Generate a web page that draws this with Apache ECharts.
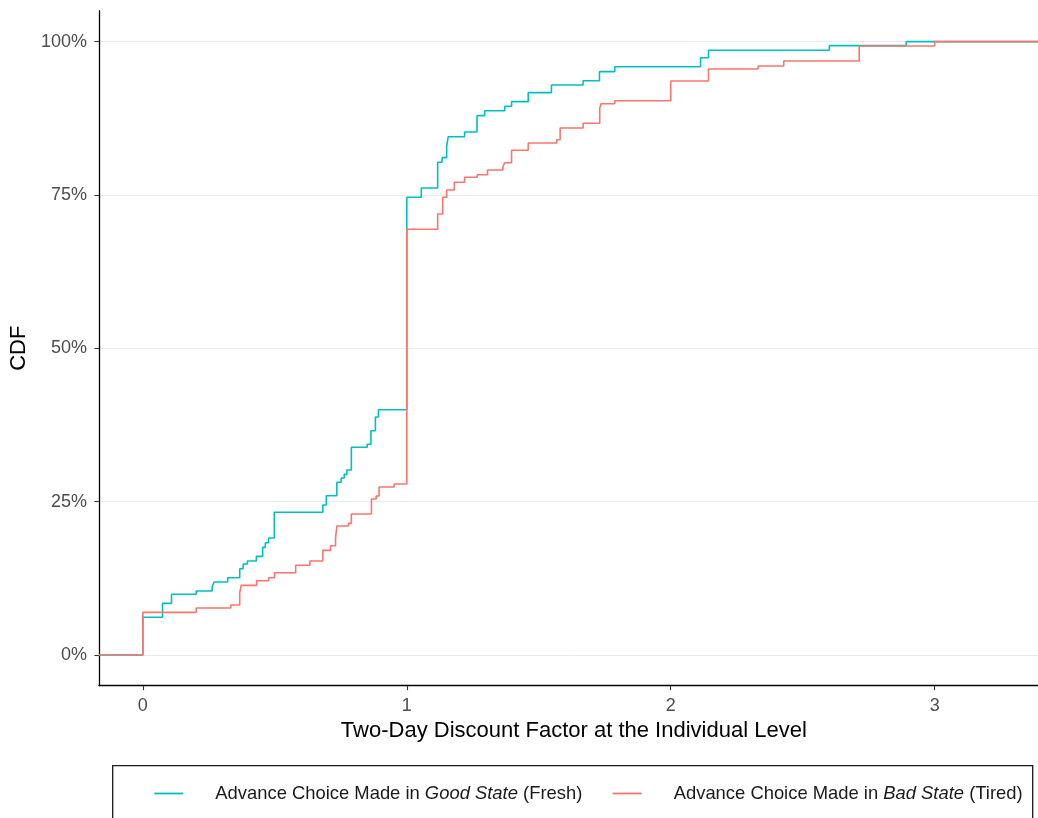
<!DOCTYPE html>
<html>
<head>
<meta charset="utf-8">
<script src="https://cdn.jsdelivr.net/npm/echarts@6/dist/echarts.min.js"></script>
<style>
html,body{margin:0;padding:0;background:#fff;overflow:hidden;width:1038px;height:818px;}
#chart{width:1049px;height:818px;}
</style>
</head>
<body>
<div id="chart"></div>
<script>
// ---- data (x = discount factor, y = CDF in %) ----
var goodX = [0, 0.0745, 0.1085, 0.202, 0.2625, 0.270, 0.3215, 0.367, 0.380, 0.396,
  0.430, 0.454, 0.464, 0.4765, 0.498, 0.682, 0.695, 0.735, 0.7515, 0.763,
  0.773, 0.790, 0.850, 0.864, 0.881, 0.8926, 1.0, 1.055, 1.117, 1.1335,
  1.151, 1.157, 1.219, 1.266, 1.295, 1.371, 1.397, 1.460, 1.548, 1.668,
  1.730, 1.788, 2.113, 2.143, 2.601, 2.892];
var goodY = [6.15, 8.43, 9.90, 10.44, 11.14, 11.90, 12.60, 14.07, 14.84, 15.33,
  16.09, 17.56, 18.31, 19.08, 23.27, 24.46, 25.97, 28.16, 28.86, 29.46,
  30.16, 33.87, 34.36, 36.57, 38.81, 40.00, 74.63, 76.15, 80.34, 81.09,
  82.94, 84.51, 85.28, 87.94, 88.75, 89.47, 90.22, 91.69, 92.94, 93.64,
  95.11, 95.92, 97.39, 98.60, 99.35, 100];
var badX = [0, 0.202, 0.333, 0.367, 0.373, 0.431, 0.4765, 0.499, 0.579, 0.633,
  0.682, 0.711, 0.730, 0.735, 0.779, 0.790, 0.866, 0.884, 0.895, 0.952,
  1.0, 1.117, 1.136, 1.151, 1.180, 1.219, 1.267, 1.306, 1.364, 1.371,
  1.397, 1.460, 1.568, 1.581, 1.668, 1.731, 1.736, 1.788, 2.0, 2.143,
  2.331, 2.428, 2.714, 3.0];
var badY = [6.96, 7.66, 8.15, 10.16, 11.36, 12.11, 12.60, 13.42, 14.63, 15.33,
  17.07, 17.82, 19.03, 21.03, 21.47, 22.99, 25.44, 25.93, 27.39, 27.88,
  69.41, 71.91, 74.63, 75.82, 77.07, 77.89, 78.31, 79.08, 79.57, 80.27,
  82.29, 83.48, 84.02, 85.93, 86.69, 89.14, 89.89, 90.38, 93.59, 95.55,
  96.04, 96.85, 99.30, 100];
var xTicks = [0, 1, 2, 3];
var yTicks = [0, 25, 50, 75, 100];
var seriesNames = ['Advance Choice Made in Good State (Fresh)', 'Advance Choice Made in Bad State (Tired)'];
var legendPre = ['Advance Choice Made in ', 'Advance Choice Made in '];
var legendItalic = ['Good State', 'Bad State'];
var legendPost = [' (Fresh)', ' (Tired)'];
var colors = ['#00BFC4', '#F8766D'];

var X_MIN = -0.1664, X_MAX = 3.432, Y_MIN = -5.0, Y_MAX = 105.05;

function ecdf(xs, ys) {
  var d = [[X_MIN, 0]];
  for (var i = 0; i < xs.length; i++) d.push([xs[i], ys[i]]);
  d.push([X_MAX, ys[ys.length - 1]]);
  return d;
}

var FONT = '"Liberation Sans", Arial, Helvetica, sans-serif';

function legendFor(i, left) {
  return {
    data: [seriesNames[i]],
    left: left, top: 784.5,
    padding: 0,
    icon: 'rect', itemWidth: 29, itemHeight: 1.8,
    selectedMode: false,
    formatter: function () {
      return '{n|' + legendPre[i] + '}{it|' + legendItalic[i] + '}{n|' + legendPost[i] + '}';
    },
    textStyle: {
      padding: [0, 0, 0, 27],
      rich: {
        n: {fontFamily: FONT, fontSize: 18.4, color: '#1a1a1a'},
        it: {fontFamily: FONT, fontSize: 18.4, fontStyle: 'italic', color: '#1a1a1a'}
      }
    }
  };
}

var chart = echarts.init(document.getElementById('chart'), null, {renderer: 'canvas'});
chart.setOption({
  animation: false,
  backgroundColor: '#ffffff',
  textStyle: {fontFamily: FONT},
  grid: {left: 97.3, right: 0.3, top: 10.7, bottom: 132.3, containLabel: false},
  xAxis: {
    type: 'value', min: X_MIN, max: X_MAX,
    name: 'Two-Day Discount Factor at the Individual Level',
    nameLocation: 'middle', nameGap: 34,
    nameTextStyle: {fontFamily: FONT, fontSize: 22, color: '#000'},
    axisLine: {show: true, onZero: false, lineStyle: {color: '#000', width: 1.3}},
    axisTick: {show: true, length: 4.5, customValues: xTicks, lineStyle: {color: '#333', width: 1.1}},
    axisLabel: {customValues: xTicks, margin: 11, fontFamily: FONT, fontSize: 18, color: '#4D4D4D'},
    splitLine: {show: false}
  },
  yAxis: {
    type: 'value', min: Y_MIN, max: Y_MAX,
    name: 'CDF', nameLocation: 'middle', nameGap: 61,
    nameTextStyle: {fontFamily: FONT, fontSize: 22, color: '#000'},
    axisLine: {show: true, onZero: false, lineStyle: {color: '#000', width: 1.3}},
    axisTick: {show: true, length: 4.5, customValues: yTicks, lineStyle: {color: '#333', width: 1.1}},
    axisLabel: {customValues: yTicks, margin: 12, fontFamily: FONT, fontSize: 18, color: '#4D4D4D',
      formatter: function (v) { return v + '%'; }},
    splitLine: {show: true, lineStyle: {color: '#EBEBEB', width: 1}}
  },
  legend: [legendFor(0, 154.3), legendFor(1, 612.7)],
  graphic: [{
    type: 'rect', silent: true, z: 10,
    shape: {x: 112.7, y: 765.7, width: 920, height: 80},
    style: {fill: 'none', stroke: '#1a1a1a', lineWidth: 1.3}
  }],
  series: [
    {name: seriesNames[0], type: 'line', step: 'end', data: ecdf(goodX, goodY),
      showSymbol: false, symbol: 'none', color: colors[0],
      lineStyle: {color: colors[0], width: 1.6}, z: 2},
    {name: seriesNames[1], type: 'line', step: 'end', data: ecdf(badX, badY),
      showSymbol: false, symbol: 'none', color: colors[1],
      lineStyle: {color: colors[1], width: 1.6}, z: 3}
  ]
});
</script>
</body>
</html>
